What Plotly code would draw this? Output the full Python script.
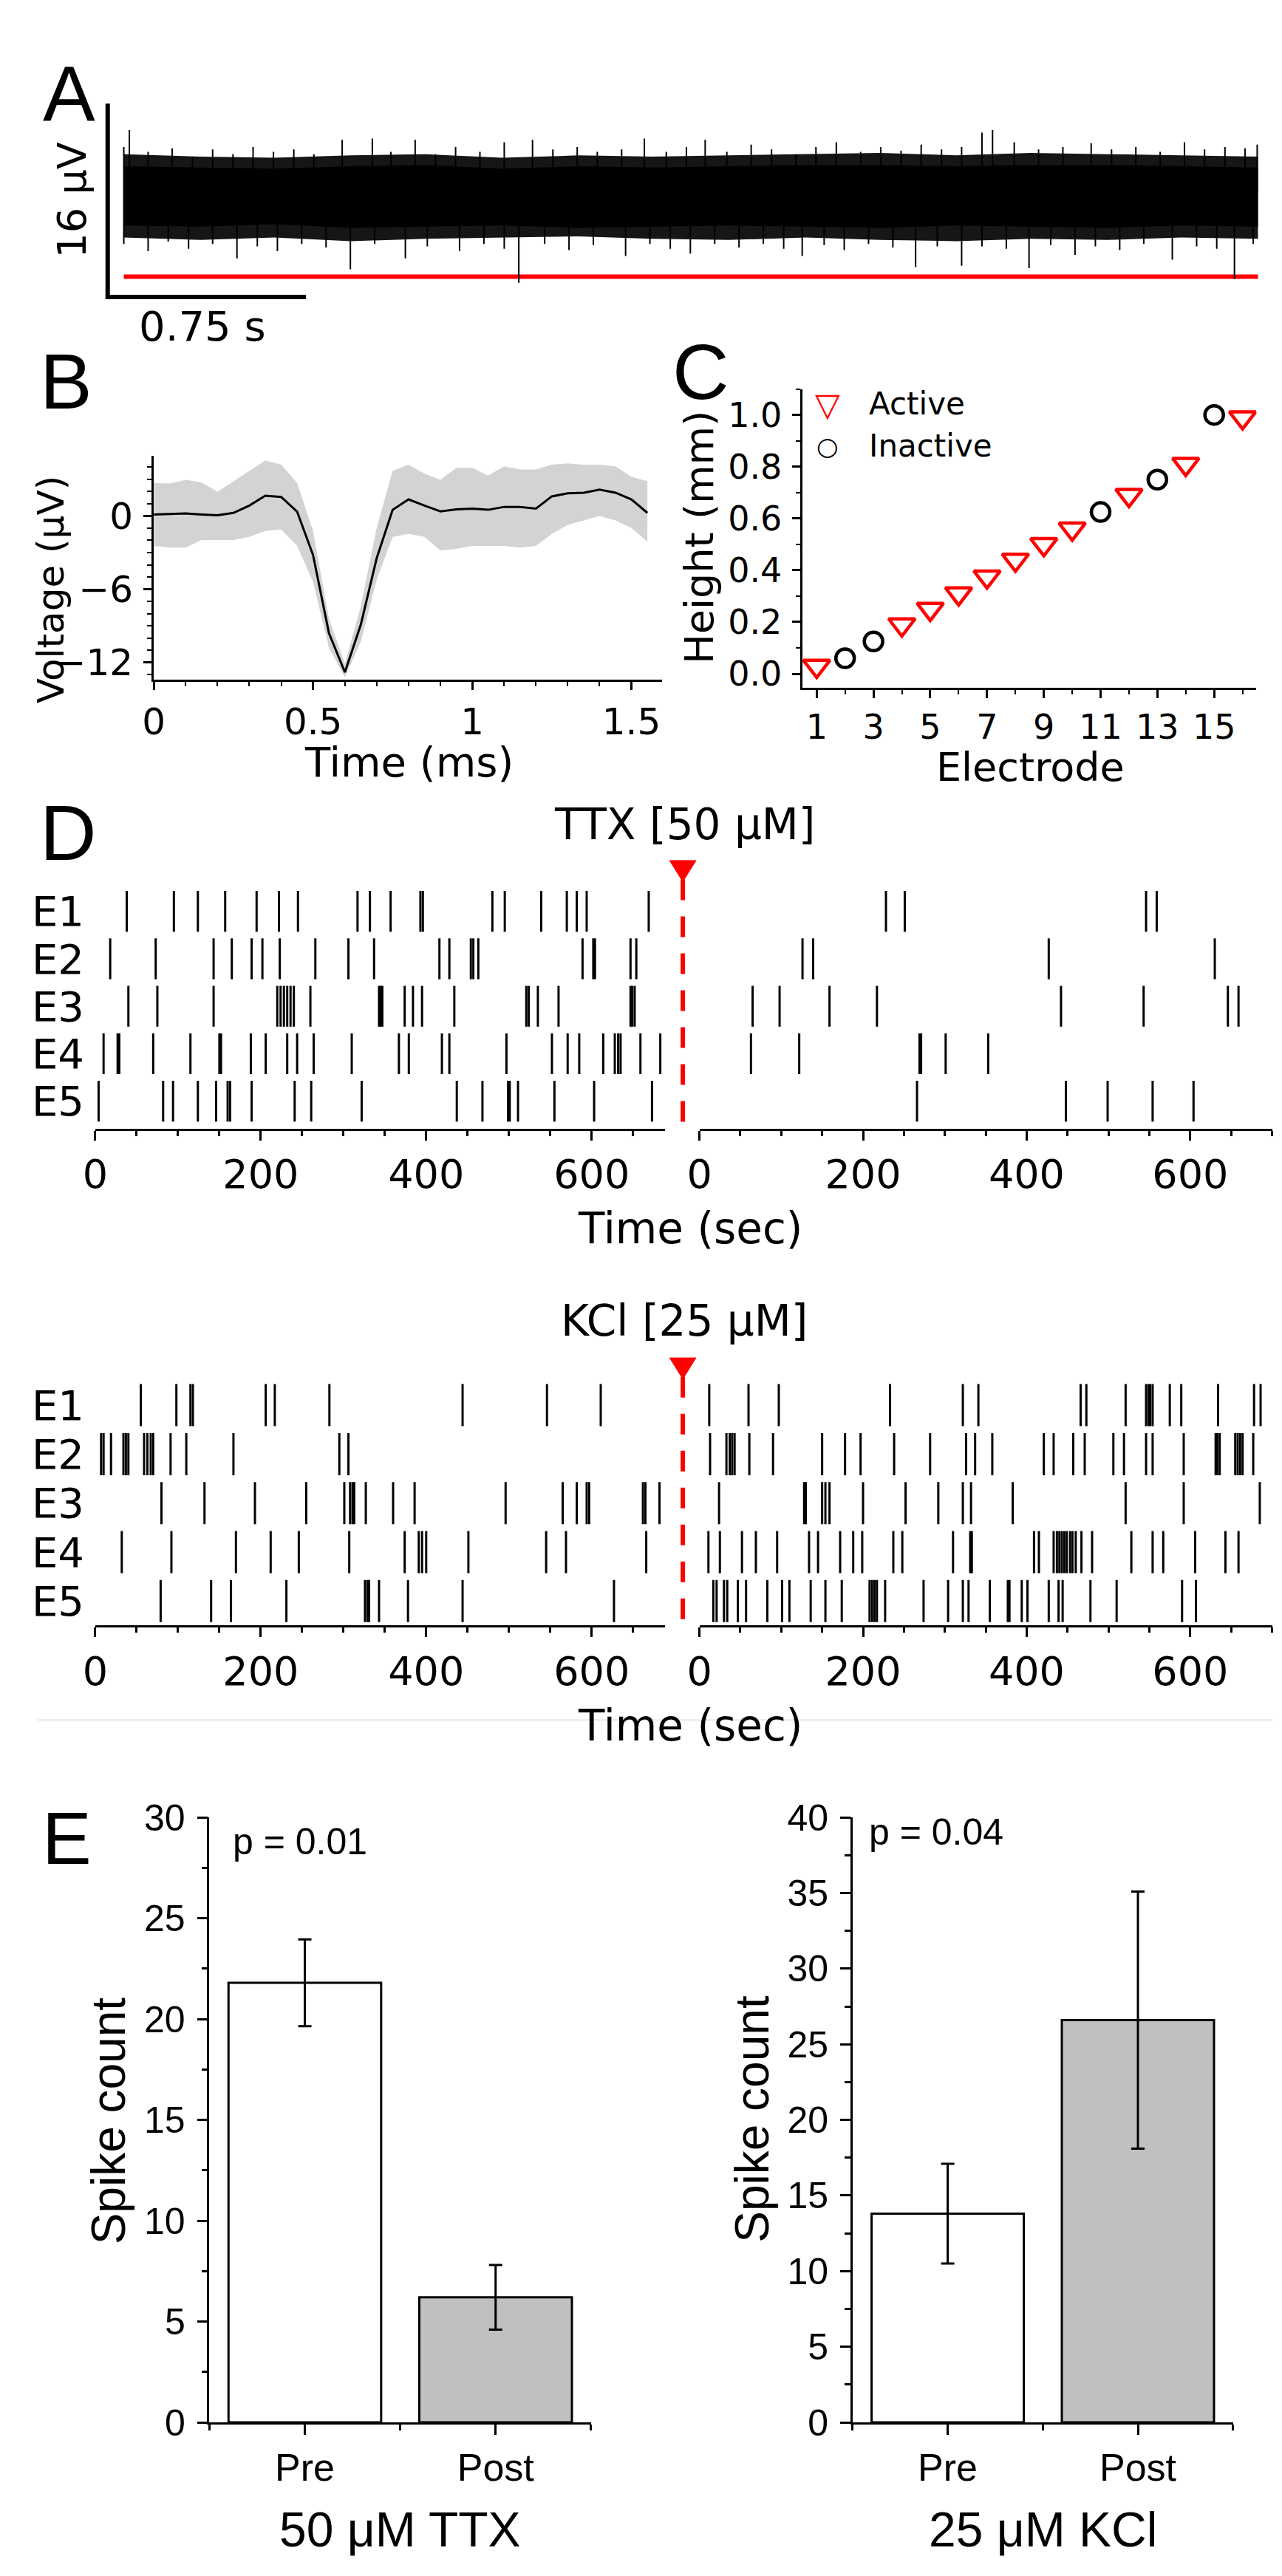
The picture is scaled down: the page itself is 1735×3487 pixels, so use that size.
import plotly.graph_objects as go

W, H = 1735, 3487


def dx(a, b):
    return [a / W, b / W]


def dy(top, bottom):
    return [1 - bottom / H, 1 - top / H]


def px(x):
    return x / W


def py(y):
    return 1 - y / H


# ---------------- data ----------------
# A: raw trace (noise band envelope in uV, plus the tips of the visible deflections)
a_t = [0.0, 0.29, 0.57, 0.86, 1.14, 1.43, 1.72, 2.0, 2.29, 2.58, 2.86, 3.15, 3.43, 3.72, 4.0, 4.29]
a_fringe_hi = [3.1, 2.9, 2.8, 3.0, 3.1, 2.8, 3.0, 2.9, 3.0, 3.1, 3.2, 3.0, 3.2, 3.1, 3.0, 2.9]
a_core_hi = [2.1, 2.0, 1.9, 2.1, 2.2, 1.9, 2.1, 2.0, 2.1, 2.2, 2.2, 2.1, 2.2, 2.2, 2.1, 2.0]
a_core_lo = [-2.8, -2.9, -2.7, -3.0, -2.9, -2.8, -3.0, -2.9, -2.8, -2.9, -3.0, -2.8, -2.9, -3.0, -2.8, -2.9]
a_fringe_lo = [-3.8, -4.0, -3.8, -4.1, -3.9, -3.8, -3.7, -3.9, -4.0, -3.8, -4.0, -4.1, -3.9, -4.0, -3.8, -3.9]
a_up_t = [0.0, 0.021, 0.092, 0.183, 0.26, 0.336, 0.413, 0.489, 0.566, 0.643, 0.719, 0.826, 0.94, 1.01,
          1.102, 1.179, 1.255, 1.347, 1.439, 1.546, 1.623, 1.715, 1.791, 1.883, 1.969, 2.052, 2.128,
          2.199, 2.281, 2.373, 2.45, 2.542, 2.618, 2.695, 2.787, 2.863, 2.94, 3.016, 3.093, 3.169,
          3.246, 3.286, 3.368, 3.46, 3.552, 3.659, 3.736, 3.828, 3.92, 4.012, 4.088, 4.165, 4.241, 4.287]
a_up_v = [3.69, 5.09, 3.29, 3.59, 2.89, 3.49, 3.09, 3.69, 3.29, 3.49, 3.09, 4.29, 4.39, 3.29,
          4.29, 3.09, 3.69, 3.29, 4.09, 4.29, 3.49, 3.69, 3.29, 3.49, 4.39, 3.29, 3.69,
          4.29, 3.29, 3.89, 3.49, 3.09, 3.69, 4.09, 3.29, 3.69, 3.39, 3.89, 3.49, 3.69,
          4.89, 5.09, 4.09, 3.49, 3.69, 3.99, 3.49, 3.69, 3.29, 4.09, 3.49, 3.69, 3.59, 3.89]
a_down_t = [0.0, 0.092, 0.168, 0.245, 0.336, 0.428, 0.505, 0.581, 0.673, 0.765, 0.857, 0.949, 1.065,
            1.148, 1.27, 1.362, 1.439, 1.494, 1.592, 1.684, 1.776, 1.898, 1.99, 2.067, 2.143, 2.235,
            2.327, 2.419, 2.496, 2.566, 2.649, 2.725, 2.817, 2.909, 2.995, 3.077, 3.169, 3.246, 3.338,
            3.424, 3.506, 3.598, 3.675, 3.767, 3.858, 3.966, 4.058, 4.134, 4.201, 4.272]
a_down_v = [-4.33, -4.93, -4.13, -4.73, -4.33, -5.53, -4.53, -4.93, -4.33, -4.63, -6.43, -4.33, -5.53,
            -4.53, -4.93, -4.33, -4.73, -7.54, -4.33, -4.83, -4.43, -5.33, -4.33, -4.73, -5.13, -4.33,
            -4.63, -4.33, -4.73, -5.33, -4.43, -4.83, -4.33, -4.63, -6.24, -4.53, -6.14, -4.53, -4.73,
            -6.34, -4.43, -5.23, -4.53, -4.83, -4.33, -5.63, -4.53, -4.73, -7.23, -4.33]
a_threshold = -7.04
scale_t = 0.75   # s
scale_v = 16     # uV

# B: mean spike waveform with SD band
b_time = [0.0, 0.05, 0.10, 0.15, 0.20, 0.25, 0.30, 0.35, 0.40, 0.45, 0.50, 0.55, 0.60, 0.65, 0.70, 0.75,
          0.80, 0.85, 0.90, 0.95, 1.00, 1.05, 1.10, 1.15, 1.20, 1.25, 1.30, 1.35, 1.40, 1.45, 1.50, 1.55]
b_mean = [0.12, 0.15, 0.2, 0.12, 0.05, 0.25, 0.85, 1.65, 1.55, 0.35, -3.2, -9.6, -12.8, -8.9, -3.45, 0.5,
          1.35, 0.85, 0.37, 0.54, 0.6, 0.5, 0.74, 0.74, 0.6, 1.6, 1.85, 1.9, 2.15, 1.9, 1.35, 0.25]
b_upper = [2.7, 2.66, 2.95, 2.75, 1.97, 2.83, 3.7, 4.55, 4.2, 2.7, -1.23, -8.4, -12.1, -7.4, -0.98, 3.7,
           4.2, 3.45, 2.95, 3.94, 3.94, 3.3, 4.06, 3.8, 3.8, 4.2, 4.3, 4.2, 4.2, 4.06, 3.2, 2.83]
b_lower = [-2.46, -2.59, -2.59, -1.97, -1.97, -1.97, -1.72, -1.23, -1.1, -2.46, -5.4, -10.8, -13.2, -10.3, -5.2, -1.72,
           -1.48, -1.72, -2.83, -2.7, -2.46, -2.46, -2.46, -2.59, -2.46, -1.48, -0.74, -0.37, 0.0, -0.37, -0.99, -2.1]

# C: electrode heights
c_active_e = [1, 4, 5, 6, 7, 8, 9, 10, 12, 14, 16]
c_active_h = [0.03, 0.19, 0.25, 0.31, 0.375, 0.44, 0.5, 0.56, 0.69, 0.81, 0.99]
c_inactive_e = [2, 3, 11, 13, 15]
c_inactive_h = [0.06, 0.125, 0.625, 0.75, 1.0]

# D: spike times (s), electrodes E1..E5
electrodes = ["E1", "E2", "E3", "E4", "E5"]
ttx_pre = [
    [38, 95, 124, 157, 195, 222, 245, 317, 332, 357, 393, 396, 480, 495, 539, 570, 582, 594, 669],
    [18, 73, 143, 165, 189, 202, 223, 266, 306, 337, 416, 428, 454, 457, 463, 589, 602, 604, 647, 654],
    [40, 75, 143, 220, 224, 228, 232, 236, 240, 260, 343, 345, 347, 374, 384, 395, 434, 521, 524, 535, 560,
     647, 649, 652],
    [10, 27, 29, 70, 115, 150, 152, 188, 206, 232, 244, 264, 310, 367, 379, 419, 428, 497, 552, 571, 585,
     614, 628, 632, 635, 659, 683],
    [4, 82, 94, 124, 146, 160, 163, 189, 241, 261, 322, 437, 468, 499, 501, 511, 555, 603, 673],
]
ttx_post = [
    [228, 251, 546, 559],
    [126, 139, 427, 630],
    [65, 98, 159, 217, 442, 543, 646, 659],
    [63, 122, 269, 271, 301, 353],
    [266, 448, 499, 554, 604],
]
kcl_pre = [
    [55, 98, 115, 118, 206, 217, 283, 444, 546, 611],
    [7, 10, 19, 34, 37, 40, 59, 63, 67, 70, 91, 110, 167, 295, 306],
    [80, 132, 193, 255, 301, 308, 311, 313, 327, 360, 386, 496, 565, 582, 594, 597, 662, 665, 682],
    [32, 92, 170, 212, 246, 307, 374, 391, 395, 400, 451, 545, 569, 666],
    [79, 140, 164, 231, 326, 329, 331, 343, 378, 444, 627],
]
kcl_post = [
    [12, 60, 97, 233, 322, 341, 466, 473, 521, 546, 549, 551, 554, 575, 589, 634, 678, 686],
    [13, 33, 37, 40, 43, 61, 90, 150, 178, 197, 238, 282, 326, 337, 358, 421, 433, 457, 471, 506, 519,
     546, 554, 592, 631, 633, 636, 655, 658, 661, 664, 677],
    [24, 128, 130, 150, 154, 159, 200, 252, 292, 322, 332, 383, 521, 592, 685],
    [11, 25, 52, 69, 95, 134, 145, 172, 188, 199, 237, 248, 310, 331, 333, 409, 415, 433, 437, 440, 443,
     446, 449, 453, 456, 460, 467, 480, 528, 554, 567, 606, 643, 659],
    [17, 21, 30, 34, 47, 57, 83, 101, 110, 136, 154, 174, 208, 211, 214, 217, 227, 274, 304, 322, 329,
     355, 377, 379, 394, 401, 427, 439, 444, 478, 510, 590, 607],
]

# E: spike counts (mean +- error)
e_groups = ["Pre", "Post"]
ttx_counts = [21.8, 6.2]
ttx_err = [2.15, 1.6]
kcl_counts = [13.8, 26.6]
kcl_err = [3.3, 8.5]

BLACK = "black"
RED = "#ff0000"
DV = "DejaVu Sans"
AR = "Liberation Sans"

fig = go.Figure()

# ---------------- A ----------------
fig.add_trace(go.Scatter(x=a_t, y=a_fringe_lo, mode="lines", line=dict(width=0), xaxis="x", yaxis="y"))
fig.add_trace(go.Scatter(x=a_t, y=a_fringe_hi, mode="lines", line=dict(width=0), fill="tonexty",
                         fillcolor="#161616", xaxis="x", yaxis="y"))
fig.add_trace(go.Scatter(x=a_t, y=a_core_lo, mode="lines", line=dict(width=0), xaxis="x", yaxis="y"))
fig.add_trace(go.Scatter(x=a_t, y=a_core_hi, mode="lines", line=dict(width=0), fill="tonexty",
                         fillcolor="black", xaxis="x", yaxis="y"))
fig.add_trace(go.Scatter(x=[a_t[0], a_t[-1]], y=[a_threshold, a_threshold], mode="lines",
                         line=dict(color=RED, width=6), xaxis="x", yaxis="y"))
sx, sy = [], []
for t, v in list(zip(a_up_t, a_up_v)) + list(zip(a_down_t, a_down_v)):
    sx += [t, t, None]
    sy += [0, v, None]
fig.add_trace(go.Scatter(x=sx, y=sy, mode="lines", line=dict(color=BLACK, width=2), xaxis="x", yaxis="y"))
# scale bar
t0, v0 = -0.061, -8.72
fig.add_trace(go.Scatter(x=[t0, t0, t0 + scale_t], y=[v0 + scale_v, v0, v0], mode="lines",
                         line=dict(color=BLACK, width=6), xaxis="x", yaxis="y"))

# ---------------- B ----------------
fig.add_trace(go.Scatter(x=b_time, y=b_lower, mode="lines", line=dict(width=0), xaxis="x2", yaxis="y2"))
fig.add_trace(go.Scatter(x=b_time, y=b_upper, mode="lines", line=dict(width=0), fill="tonexty",
                         fillcolor="#d3d3d3", xaxis="x2", yaxis="y2"))
fig.add_trace(go.Scatter(x=b_time, y=b_mean, mode="lines", line=dict(color=BLACK, width=3),
                         xaxis="x2", yaxis="y2"))

# ---------------- C ----------------
fig.add_trace(go.Scatter(x=c_active_e, y=c_active_h, mode="markers", name="Active",
                         marker=dict(symbol="triangle-down-open", size=31, color=RED, line=dict(width=4.5, color=RED)),
                         xaxis="x3", yaxis="y3"))
fig.add_trace(go.Scatter(x=c_inactive_e, y=c_inactive_h, mode="markers", name="Inactive",
                         marker=dict(symbol="circle-open", size=25, color=BLACK, line=dict(width=4.5, color=BLACK)),
                         xaxis="x3", yaxis="y3"))


# ---------------- D ----------------
def raster(rows, n):
    xs, ys = [], []
    for i, times in enumerate(rows):
        r = len(rows) - i
        for t in times:
            xs += [t, t, None]
            ys += [r - 0.43, r + 0.43, None]
    return go.Scatter(x=xs, y=ys, mode="lines", line=dict(color=BLACK, width=3),
                      xaxis="x%d" % n, yaxis="y%d" % n)


fig.add_trace(raster(ttx_pre, 4))
fig.add_trace(raster(ttx_post, 5))
fig.add_trace(raster(kcl_pre, 6))
fig.add_trace(raster(kcl_post, 7))

# ---------------- E ----------------
for n, counts, err in [(8, ttx_counts, ttx_err), (9, kcl_counts, kcl_err)]:
    fig.add_trace(go.Bar(x=[0, 1], y=counts, width=0.8,
                         marker=dict(color=["white", "#c0c0c0"], line=dict(color=BLACK, width=3)),
                         error_y=dict(type="data", array=err, color=BLACK, thickness=3, width=9),
                         xaxis="x%d" % n, yaxis="y%d" % n))


# ---------------- axes ----------------
def ax(domain, anchor, rng, font, size, lw=3, ticklen=11, **kw):
    d = dict(domain=domain, anchor=anchor, range=rng, showline=True, linecolor=BLACK, linewidth=lw,
             ticks="outside", ticklen=ticklen, tickwidth=lw, tickcolor=BLACK,
             tickfont=dict(family=font, size=size, color=BLACK),
             showgrid=False, zeroline=False, fixedrange=True)
    d.update(kw)
    return d


def minor(dtick, ticklen=6, width=2, tick0=0):
    return dict(ticks="outside", dtick=dtick, tick0=tick0, ticklen=ticklen, tickwidth=width,
                tickcolor=BLACK, showgrid=False)


layout = dict(
    width=W, height=H, margin=dict(l=0, r=0, t=0, b=0),
    paper_bgcolor="white", plot_bgcolor="rgba(0,0,0,0)", showlegend=False,
)
# A
layout["xaxis"] = dict(domain=dx(110, 1710), anchor="y", range=[-0.094, 4.334], visible=False, fixedrange=True)
layout["yaxis"] = dict(domain=dy(100, 400), anchor="x", range=[-10.35, 7.70], visible=False, fixedrange=True)
# B
layout["xaxis2"] = ax(dx(185, 880), "y2", [0, 1.597], DV, 50, tickvals=[0, 0.5, 1, 1.5],
                      minor=minor(0.1))
layout["yaxis2"] = ax(dy(591, 899), "x2", [-13.39, 4.94], DV, 50, tickvals=[-12, -6, 0],
                      minor=minor(1), ticklabelstandoff=4)
# C
layout["xaxis3"] = ax(dx(1071, 1692), "y3", [0.485, 16.49], DV, 46, tickvals=list(range(1, 16, 2)),
                      minor=minor(1))
layout["yaxis3"] = ax(dy(499.5, 910), "x3", [-0.053, 1.1], DV, 46, tickvals=[0, 0.2, 0.4, 0.6, 0.8, 1.0],
                      tickformat=".1f", minor=minor(0.1), ticklabelstandoff=4)
# D
for n, (top, bot, yr) in zip([4, 5, 6, 7], [(1180, 1516.5, [0.425, 5.58]), (1180, 1516.5, [0.425, 5.58]),
                                         (1862, 2200, [0.503, 5.52]), (1862, 2200, [0.503, 5.52])]):
    left = n in (4, 6)
    xdom = dx(105, 884) if left else dx(930.7, 1714)
    xr = [0, 689] if left else [0, 700.6]
    layout["xaxis%d" % n] = ax(xdom, "y%d" % n, xr, DV, 54, ticklen=13, tickvals=[0, 200, 400, 600],
                               minor=minor(50, ticklen=7, width=3))
    layout["yaxis%d" % n] = dict(domain=dy(top, bot), anchor="x%d" % n, range=yr, showline=False,
                                 showgrid=False, zeroline=False, ticks="", fixedrange=True,
                                 tickvals=[5, 4, 3, 2, 1], ticktext=electrodes, showticklabels=left,
                                 ticklabelstandoff=14, tickfont=dict(family=DV, size=56, color=BLACK))
# E
for n, (xd, ymax) in zip([8, 9], [(dx(261, 782.5), 30), (dx(1140, 1660), 40)]):
    layout["xaxis%d" % n] = ax(xd, "y%d" % n, [-0.5, 1.5], AR, 52, lw=2.5, ticklen=14,
                               tickvals=[0, 1], ticktext=e_groups,
                               minor=minor(1, ticklen=8, width=2.5, tick0=0.5))
    layout["yaxis%d" % n] = ax(dy(2464, 3296), "x%d" % n, [0, ymax], AR, 50, lw=2.5, ticklen=14,
                               dtick=5, minor=minor(2.5, ticklen=8, width=2.5), ticklabelstandoff=6)


# ---------------- text ----------------
def note(x, y, text, font, size, color=BLACK, angle=0, xanchor="center"):
    return dict(x=px(x), y=py(y), xref="paper", yref="paper", text=text, showarrow=False,
                xanchor=xanchor, yanchor="middle", textangle=angle,
                font=dict(family=font, size=size, color=color))


ann = [
    note(69, 92, "A", AR, 106), note(65, 489, "B", AR, 106), note(933, 476, "C", AR, 106),
    note(68, 1110, "D", AR, 106), note(66, 2492, "E", AR, 100),
    note(73, 240, "16 µV", DV, 54, angle=-90), note(251, 413, "0.75 s", DV, 56),
    note(44, 776, "Voltage (µV)", DV, 50, angle=-90), note(534, 1012, "Time (ms)", DV, 56),
    note(931, 703, "Height (mm)", DV, 54, angle=-90), note(1383, 1020, "Electrode", DV, 54),
    note(1106, 521, "<b>▽</b>", DV, 44, color=RED), note(1160, 520, "Active", DV, 42, xanchor="left"),
    note(1106, 578, "<b>○</b>", DV, 34), note(1160, 578, "Inactive", DV, 42, xanchor="left"),
    note(910, 1098, "TTX [50 µM]", DV, 58), note(918, 1654, "Time (sec)", DV, 58),
    note(910, 1781, "KCl [25 µM]", DV, 58), note(918, 2338, "Time (sec)", DV, 58),
    note(123, 2881, "Spike count", AR, 64, angle=-90), note(1002, 2879, "Spike count", AR, 64, angle=-90),
    note(291, 2497, "p = 0.01", AR, 50, xanchor="left"), note(1160, 2484, "p = 0.04", AR, 50, xanchor="left"),
    note(522, 3443, "50 μM TTX", AR, 66), note(1400, 3443, "25 μM KCl", AR, 66),
]
layout["annotations"] = ann

# drug application markers (red triangle + dashed line) and the faint panel separator
shapes = [dict(type="line", xref="paper", yref="paper", x0=px(26), x1=px(1714), y0=py(2330), y1=py(2330),
               line=dict(color="#e8e8e8", width=2), layer="below")]
for top, bottom in [(1148, 1514), (1832, 2198)]:
    shapes.append(dict(type="line", xref="paper", yref="paper", x0=px(908), x1=px(908),
                       y0=py(top + 26), y1=py(bottom), line=dict(color=RED, width=6, dash="28px,22px")))
    shapes.append(dict(type="path", xref="paper", yref="paper",
                       path="M %f,%f L %f,%f L %f,%f Z" % (px(890), py(top), px(926), py(top),
                                                           px(908), py(top + 29)),
                       fillcolor=RED, line=dict(color=RED, width=1)))
layout["shapes"] = shapes

fig.update_layout(**layout)
fig.write_html("out.html")
